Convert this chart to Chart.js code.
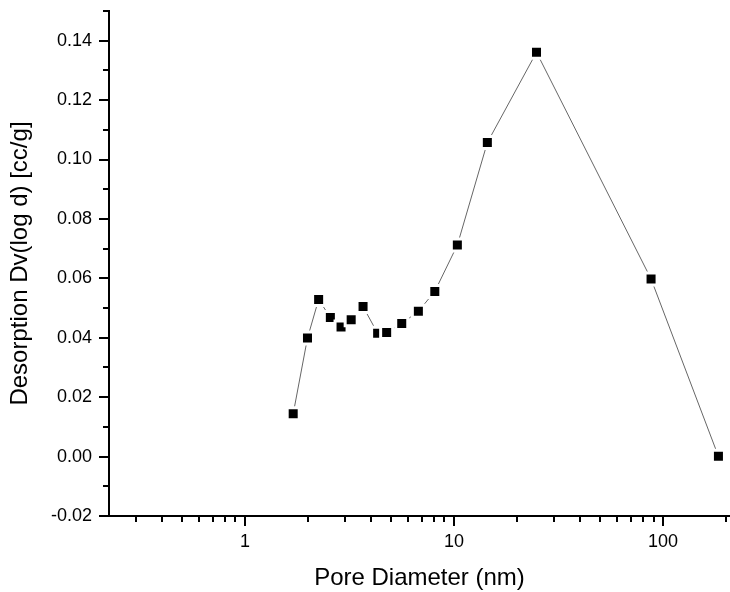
<!DOCTYPE html>
<html>
<head>
<meta charset="utf-8">
<script src="https://cdn.jsdelivr.net/npm/chart.js@4.4.1/dist/chart.umd.min.js"></script>
<style>
html, body { margin: 0; padding: 0; background: #fff; }
</style>
</head>
<body>
<canvas id="myChart" width="730" height="592"></canvas>
<script>
"use strict";
// pore size distribution
var poreDiameter = [1.70, 1.99, 2.25, 2.56, 2.88, 3.22, 3.67, 4.31, 4.76, 5.62, 6.75, 8.09, 10.37, 14.43, 24.8, 87.6, 184];
var dvLogD = [0.0144, 0.0399, 0.0529, 0.0468, 0.0436, 0.0461, 0.0505, 0.0415, 0.0418, 0.0448, 0.0489, 0.0556, 0.0712, 0.1057, 0.1361, 0.0598, 0.0001];
var xTickLabels = [1, 10, 100];
var yTickLabels = ["-0.02", "0.00", "0.02", "0.04", "0.06", "0.08", "0.10", "0.12", "0.14"];

(function () {
    Chart.defaults.font.family = "'Liberation Sans', Arial, sans-serif";
    Chart.defaults.color = "#000";

    function isMajorX(v) { return xTickLabels.indexOf(v) >= 0; }
    function isMajorY(v) { return yTickLabels.indexOf(v.toFixed(2)) >= 0 || (v.toFixed(2) === "-0.00"); }

    // short ticks for the minor positions
    var minorTicks = {
        id: "minorTicks",
        afterDraw: function (chart) {
            var ctx = chart.ctx, xs = chart.scales.x, ys = chart.scales.y, a = chart.chartArea;
            ctx.save();
            ctx.strokeStyle = "#000";
            ctx.lineWidth = 2;
            xs.ticks.forEach(function (t) {
                if (isMajorX(t.value)) return;
                var px = Math.round(xs.getPixelForValue(t.value));
                ctx.beginPath();
                ctx.moveTo(px, a.bottom);
                ctx.lineTo(px, a.bottom + 6);
                ctx.stroke();
            });
            ys.ticks.forEach(function (t) {
                if (isMajorY(t.value)) return;
                var py = Math.round(ys.getPixelForValue(t.value));
                ctx.beginPath();
                ctx.moveTo(a.left - 6, py);
                ctx.lineTo(a.left, py);
                ctx.stroke();
            });
            ctx.restore();
        }
    };

    var points = poreDiameter.map(function (d, i) { return { x: d, y: dvLogD[i] }; });

    var ctx = document.getElementById("myChart").getContext("2d");
    var chart = new Chart(ctx, {
        type: "line",
        data: {
            datasets: [{
                data: points,
                borderColor: "#666",
                borderWidth: 1,
                pointStyle: "rect",
                pointRadius: 8.5,
                pointBackgroundColor: "#000",
                pointBorderColor: "#fff",
                pointBorderWidth: 3,
                tension: 0
            }]
        },
        options: {
            responsive: false,
            animation: false,
            events: [],
            layout: { autoPadding: false, padding: { top: 11, left: 0, right: 0, bottom: 0 } },
            plugins: { legend: { display: false }, tooltip: { enabled: false } },
            scales: {
                x: {
                    type: "logarithmic",
                    min: 0.2235,
                    max: 209,
                    afterBuildTicks: function (scale) {
                        var t = [];
                        [0.1, 1, 10, 100].forEach(function (d) {
                            for (var k = 1; k <= 9; k++) {
                                var v = +(d * k).toPrecision(3);
                                if (v >= scale.min && v <= scale.max) t.push({ value: v });
                            }
                        });
                        scale.ticks = t;
                    },
                    afterFit: function (scale) {
                        scale.height = 76;
                        scale.paddingLeft = 0;
                        scale.paddingRight = 0;
                    },
                    ticks: {
                        autoSkip: false,
                        maxRotation: 0,
                        padding: 5,
                        font: { size: 18 },
                        callback: function (v) { return isMajorX(v) ? String(v) : ""; }
                    },
                    grid: {
                        drawOnChartArea: false,
                        tickLength: 10,
                        lineWidth: 2,
                        tickColor: function (c) { return c.tick && isMajorX(c.tick.value) ? "#000" : "rgba(0,0,0,0)"; }
                    },
                    border: { display: true, color: "#000", width: 2 },
                    title: {
                        display: true,
                        text: "Pore Diameter (nm)",
                        font: { size: 24 },
                        padding: { top: 0, bottom: -1 }
                    }
                },
                y: {
                    type: "linear",
                    min: -0.02,
                    max: 0.15,
                    afterBuildTicks: function (scale) {
                        var t = [];
                        for (var k = -2; k <= 15; k++) t.push({ value: k / 100 });
                        scale.ticks = t;
                    },
                    afterFit: function (scale) {
                        scale.width = 109;
                        scale.paddingTop = 0;
                        scale.paddingBottom = 0;
                    },
                    ticks: {
                        autoSkip: false,
                        padding: 7,
                        font: { size: 18 },
                        callback: function (v) { return isMajorY(v) ? (Math.abs(v) < 1e-9 ? "0.00" : v.toFixed(2)) : ""; }
                    },
                    grid: {
                        drawOnChartArea: false,
                        tickLength: 10,
                        lineWidth: 2,
                        tickColor: function (c) { return c.tick && isMajorY(c.tick.value) ? "#000" : "rgba(0,0,0,0)"; }
                    },
                    border: { display: true, color: "#000", width: 2 },
                    title: {
                        display: true,
                        text: "Desorption Dv(log d) [cc/g]",
                        font: { size: 24 },
                        padding: { top: 6, bottom: 0 }
                    }
                }
            }
        },
        plugins: [minorTicks]
    });
})();
</script>
</body>
</html>
